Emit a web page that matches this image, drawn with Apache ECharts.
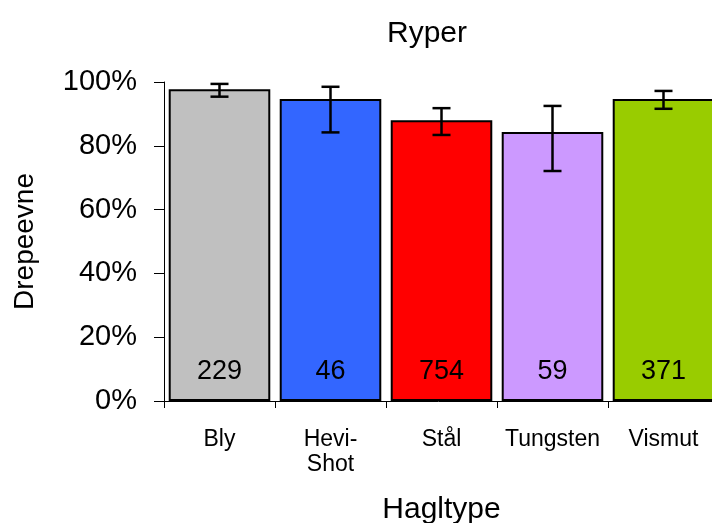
<!DOCTYPE html>
<html>
<head>
<meta charset="utf-8">
<script src="https://cdn.jsdelivr.net/npm/echarts@6/dist/echarts.min.js"></script>
<style>
html,body{margin:0;padding:0;background:#fff;}
#c{width:712px;height:523px;}
</style>
</head>
<body>
<div id="c"></div>
<script>
var categories = ['Bly', 'Hevi-\nShot', 'Stål', 'Tungsten', 'Vismut'];
var values = [0.977, 0.947, 0.880, 0.843, 0.947];
var errLow = [0.954, 0.842, 0.834, 0.721, 0.916];
var errHigh = [0.994, 0.985, 0.918, 0.925, 0.972];
var counts = [229, 46, 754, 59, 371];
var colors = ['#C0C0C0', '#3366FF', '#FF0000', '#CC99FF', '#99CC00'];
var yTicks = [0, 0.2, 0.4, 0.6, 0.8, 1.0];

var FONT = 'Liberation Sans, Arial, sans-serif';
var chart = echarts.init(document.getElementById('c'), null, {renderer: 'canvas'});

var errData = categories.map(function (c, i) { return [i, errLow[i], errHigh[i]]; });

chart.setOption({
  animation: false,
  backgroundColor: '#ffffff',
  title: {
    text: 'Ryper',
    left: 422, top: 14,
    textAlign: 'center',
    textStyle: {fontFamily: FONT, fontSize: 30, fontWeight: 'normal', color: '#000'}
  },
  grid: {left: 164, top: 82, width: 555, height: 319, containLabel: false, outerBoundsMode: 'none'},
  xAxis: {
    type: 'category',
    data: categories,
    name: 'Hagltype',
    nameLocation: 'middle',
    nameGap: 94,
    nameTextStyle: {fontFamily: FONT, fontSize: 30, color: '#000'},
    axisLine: {lineStyle: {color: '#000', width: 1}},
    axisTick: {show: true, alignWithLabel: false, length: 7, lineStyle: {color: '#000'}},
    axisLabel: {fontFamily: FONT, fontSize: 23, color: '#000', margin: 26, lineHeight: 25, interval: 0}
  },
  yAxis: {
    type: 'value',
    min: 0, max: 1, interval: 0.2,
    name: 'Drepeevne',
    nameLocation: 'middle',
    nameGap: 125,
    nameRotate: 90,
    nameTextStyle: {fontFamily: FONT, fontSize: 28, color: '#000'},
    axisLine: {show: true, lineStyle: {color: '#000', width: 1}},
    axisTick: {show: true, length: 10, lineStyle: {color: '#000'}},
    splitLine: {show: false},
    axisLabel: {
      fontFamily: FONT, fontSize: 29, color: '#000', margin: 27,
      padding: [6, 0, 0, 0],
      formatter: function (v) { return Math.round(v * 100) + '%'; }
    }
  },
  series: [
    {
      type: 'bar',
      data: values.map(function (v, i) { return {value: v, itemStyle: {color: colors[i]}}; }),
      barCategoryGap: '8.5%',
      itemStyle: {borderColor: '#000', borderWidth: 2},
      label: {
        show: true,
        position: 'insideBottom',
        distance: 16,
        fontFamily: FONT, fontSize: 27, color: '#000',
        formatter: function (p) { return String(counts[p.dataIndex]); }
      },
      z: 2
    },
    {
      type: 'custom',
      data: errData,
      z: 5,
      renderItem: function (params, api) {
        var x = api.value(0);
        var lo = api.coord([x, api.value(1)]);
        var hi = api.coord([x, api.value(2)]);
        var hw = 9;
        var st = {stroke: '#000', lineWidth: 2.5, fill: null};
        return {
          type: 'group',
          children: [
            {type: 'line', shape: {x1: lo[0], y1: lo[1], x2: hi[0], y2: hi[1]}, style: st},
            {type: 'line', shape: {x1: lo[0] - hw, y1: lo[1], x2: lo[0] + hw, y2: lo[1]}, style: st},
            {type: 'line', shape: {x1: hi[0] - hw, y1: hi[1], x2: hi[0] + hw, y2: hi[1]}, style: st}
          ]
        };
      }
    }
  ]
});
</script>
</body>
</html>
